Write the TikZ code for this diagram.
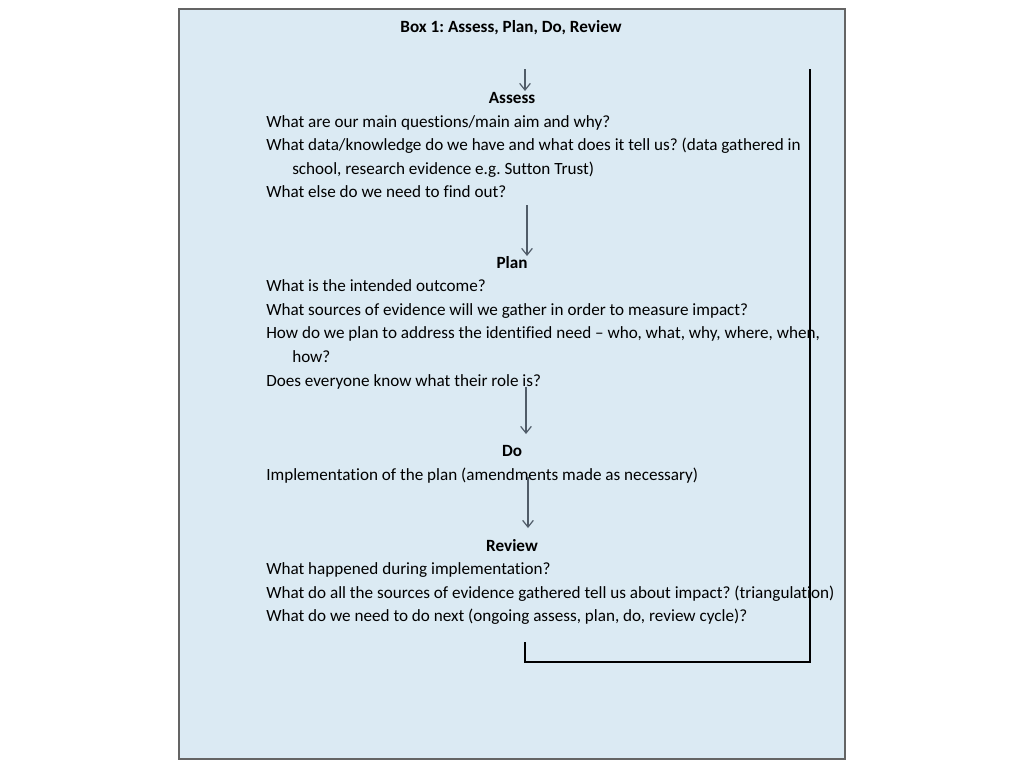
\documentclass[tikz,border=0pt]{standalone}
\usepackage{fontspec}
\setmainfont{Carlito}[Ligatures={NoCommon,TeX}]
\usetikzlibrary{arrows.meta}
\definecolor{boxfill}{RGB}{219,234,243}
\definecolor{boxline}{RGB}{100,100,100}
\definecolor{arrowcol}{RGB}{80,92,104}
\tikzset{
  txt/.style={anchor=base west, inner sep=0pt, font=\fontsize{12.85}{15}\selectfont},
  head/.style={anchor=base, inner sep=0pt, font=\fontsize{12.85}{15}\selectfont\bfseries},
  flow/.style={draw=arrowcol, line width=0.9pt, -{Straight Barb[length=5pt,width=8pt]}},
  loop/.style={draw=black, line width=0.8pt}
}
\frenchspacing
\begin{document}
\frenchspacing
\begin{tikzpicture}[x=0.75pt,y=-0.75pt]
\useasboundingbox (0,0) rectangle (1024,768);
\draw[fill=boxfill, draw=boxline, line width=1.2pt] (179,9) rectangle (845,759);
\node[head] (title) at (511,32) {Box 1: Assess, Plan, Do, Review};
\node[head] (assess) at (512,103) {Assess};
\node[txt] (a1) at (266,127) {What are our main questions/main aim and why?};
\node[txt] (a2) at (266,150) {What data/knowledge do we have and what does it tell us? (data gathered in};
\node[txt] (a3) at (292,174) {school, research evidence e.g. Sutton Trust)};
\node[txt] (a4) at (266,197) {What else do we need to find out?};
\node[head] (plan) at (512,268) {Plan};
\node[txt] (p1) at (266,291) {What is the intended outcome?};
\node[txt] (p2) at (266,315) {What sources of evidence will we gather in order to measure impact?};
\node[txt] (p3) at (266,338) {How do we plan to address the identified need -- who, what, why, where, when,};
\node[txt] (p4) at (292,362) {how?};
\node[txt] (p5) at (266,386) {Does everyone know what their role is?};
\node[head] (do) at (512,456) {Do};
\node[txt] (d1) at (266,480) {Implementation of the plan (amendments made as necessary)};
\node[head] (review) at (512,551) {Review};
\node[txt] (r1) at (266,574) {What happened during implementation?};
\node[txt] (r2) at (266,598) {What do all the sources of evidence gathered tell us about impact? (triangulation)};
\node[txt] (r3) at (266,621) {What do we need to do next (ongoing assess, plan, do, review cycle)?};
% arrows
\coordinate (s1) at (525,69); \coordinate (e1) at (525,91);
\coordinate (s2) at (527,205); \coordinate (e2) at (527,256);
\coordinate (s3) at (526,387); \coordinate (e3) at (526,434);
\coordinate (s4) at (528,477); \coordinate (e4) at (528,528);
\draw[flow] (s1) -- (e1);
\draw[flow] (s2) -- (e2);
\draw[flow] (s3) -- (e3);
\draw[flow] (s4) -- (e4);
% feedback loop
\coordinate (l1) at (525,642); \coordinate (l2) at (525,662);
\coordinate (l3) at (810,662); \coordinate (l4) at (810,69);
\draw[loop] (l1) -- (l2) -- (l3) -- (l4);
\end{tikzpicture}
\end{document}
